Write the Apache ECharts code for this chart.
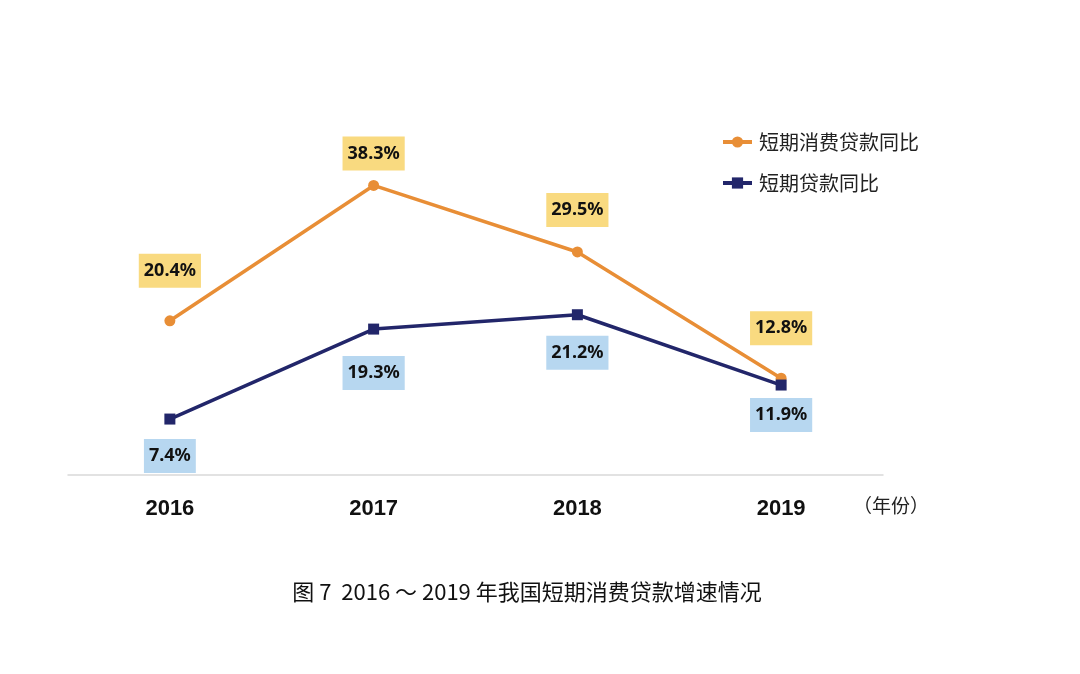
<!DOCTYPE html>
<html><head><meta charset="utf-8">
<script src="https://cdn.jsdelivr.net/npm/echarts@6/dist/echarts.min.js"></script>
<style>html,body{margin:0;padding:0;background:#fff}#c{width:1080px;height:674px}</style>
</head><body><div id="c"></div>
<script>
var categories = ['2016', '2017', '2018', '2019'];
var consumerLoan = [20.4, 38.3, 29.5, 12.8];
var shortLoan = [7.4, 19.3, 21.2, 11.9];
var consumerLabelOffset = [-50, -32, -42, -50];
var shortLabelOffset = [37, 44, 38, 30];
var seriesNames = ['短期消费贷款同比', '短期贷款同比'];
var chartTitle = '图 7  2016 ～ 2019 年我国短期消费贷款增速情况';
var unitText = '（年份）';

var font = '"Noto Sans CJK SC", "Noto Sans", sans-serif';
function mk(vals, offs, bg) {
  return vals.map(function (v, i) {
    return { value: v, label: { offset: [0, offs[i]], backgroundColor: bg } };
  });
}
var labelBase = {
  show: true, position: 'inside', formatter: function (p) { return p.value.toFixed(1) + '%'; },
  fontFamily: '"Noto Sans", sans-serif', fontWeight: 'bold', fontSize: 18, color: '#111',
  padding: [9, 5, 7, 5]
};
var chart = echarts.init(document.getElementById('c'));
chart.setOption({
  animation: false,
  grid: { left: 68, right: 197, top: 97, bottom: 199 },
  title: {
    text: chartTitle, left: 522, textAlign: 'center', top: 576,
    textStyle: { fontFamily: font, fontSize: 22, fontWeight: 'normal', color: '#111' }
  },
  graphic: [{
    type: 'text', left: 853, top: 496,
    style: { text: unitText, font: '19px ' + font, fill: '#222' }
  }],
  legend: {
    orient: 'vertical', left: 716, top: 127, itemGap: 21, itemWidth: 29, itemHeight: 14,
    lineStyle: { width: 4 },
    textStyle: { fontFamily: font, fontSize: 20, color: '#222', padding: [0, 0, 0, 2] },
    data: [seriesNames[0], seriesNames[1]]
  },
  xAxis: {
    type: 'category', data: categories, boundaryGap: true,
    axisLine: { lineStyle: { color: '#d9d9d9', width: 1.5 } },
    axisTick: { show: false },
    axisLabel: { margin: 23, fontFamily: '"Liberation Sans", Arial, sans-serif', fontWeight: 'bold', fontSize: 22, color: '#111' }
  },
  yAxis: { type: 'value', min: 0, max: 50, show: false, splitLine: { show: false } },
  series: [
    {
      name: seriesNames[0], type: 'line', data: mk(consumerLoan, consumerLabelOffset, '#F9DA80'),
      symbol: 'circle', symbolSize: 11,
      lineStyle: { color: '#E88E36', width: 3.5 }, itemStyle: { color: '#E88E36' },
      label: labelBase, z: 2
    },
    {
      name: seriesNames[1], type: 'line', data: mk(shortLoan, shortLabelOffset, '#B7D7F0'),
      symbol: 'rect', symbolSize: 11,
      lineStyle: { color: '#22266A', width: 3.5 }, itemStyle: { color: '#22266A' },
      label: labelBase, z: 3
    }
  ]
});
</script></body></html>
